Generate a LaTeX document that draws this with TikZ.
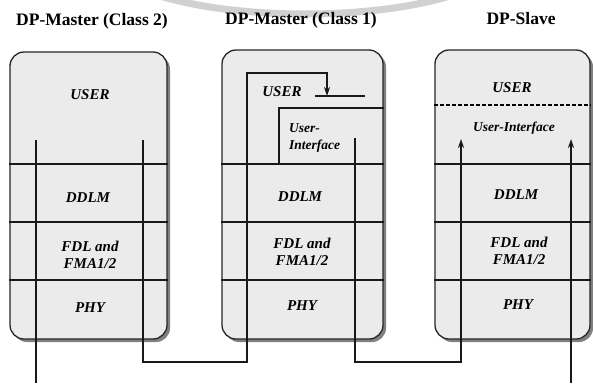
\documentclass[tikz,border=0pt]{standalone}
\usepackage{fontspec}
\setmainfont{Liberation Serif}
\usetikzlibrary{arrows.meta,shadows}

\begin{document}
\begin{tikzpicture}[x=1pt,y=-1pt,
  stack/.style={draw=black!85, line width=1.3pt, rounded corners=14pt, fill=black!8,
    inner sep=0pt,
    drop shadow={shadow xshift=3pt, shadow yshift=-3pt, fill=black!50, opacity=1}},
  title/.style={font=\fontsize{17.5}{20}\selectfont\bfseries, inner sep=0pt},
  layer/.style={font=\fontsize{15}{17}\selectfont\bfseries\itshape, inner sep=0pt, align=center},
  small/.style={font=\fontsize{13.5}{17}\selectfont\bfseries\itshape, inner sep=0pt},
  sep/.style={line width=1.8pt, black!90},
  bus/.style={line width=1.3pt, black!90},
  tip/.style={-{Stealth[length=9pt,width=6pt]}}
]
\useasboundingbox (0,0) rectangle (593,383);

% faint arc across the top
\draw[black!18, line width=7pt] (160,-4) .. controls (240,20) and (370,20) .. (450,-4);

% titles
\node[title] (t1) at (92,21) {DP-Master (Class 2)};
\node[title] (t2) at (301,20) {DP-Master (Class 1)};
\node[title] (t3) at (521,19) {DP-Slave};

% protocol stacks
\node[stack, minimum width=157pt, minimum height=287pt] (b1) at (88.5,195.5) {};
\node[stack, minimum width=161pt, minimum height=289pt] (b2) at (302.5,194.5) {};
\node[stack, minimum width=155pt, minimum height=289pt] (b3) at (512.5,194.5) {};

% layer boundaries
\foreach \b in {b1,b2,b3}{
  \draw[sep] (\b.west |- 0,164) -- (\b.east |- 0,164);
  \draw[sep] (\b.west |- 0,222) -- (\b.east |- 0,222);
  \draw[sep] (\b.west |- 0,280) -- (\b.east |- 0,280);
}

% user interface of the class 1 master
\coordinate (ui1) at (279,164);
\coordinate (ui2) at (279,108);
\draw[sep] (ui1) -- (ui2) -- (b2.east |- ui2);
% user interface of the slave
\draw[dash pattern=on 4pt off 2pt, line width=1.1pt] (b3.west |- 0,105) -- (b3.east |- 0,105);

% layer names
\node[layer] (u1) at (90,95) {USER};
\node[layer] (d1) at (88,198) {DDLM};
\node[layer] (f1) at (90,255) {FDL and\\FMA1/2};
\node[layer] (p1) at (90,308) {PHY};

\node[layer] (u2) at (282,92) {USER};
\node[small, align=left, anchor=west] (i2) at (289,138) {User-\\Interface};
\node[layer] (d2) at (300,197) {DDLM};
\node[layer] (f2) at (302,252) {FDL and\\FMA1/2};
\node[layer] (p2) at (302,306) {PHY};

\node[layer] (u3) at (512,88) {USER};
\node[small] (i3) at (514,128) {User-Interface};
\node[layer] (d3) at (516,195) {DDLM};
\node[layer] (f3) at (519,251) {FDL and\\FMA1/2};
\node[layer] (p3) at (518,305) {PHY};

% bus path points
\coordinate (a1) at (36,140);
\coordinate (a2) at (36,383);
\coordinate (r1) at (143,140);
\coordinate (r2) at (143,362);
\coordinate (l2) at (247,362);
\coordinate (l2t) at (247,73);
\coordinate (dn) at (327,73);
\coordinate (dne) at (327,96);
\coordinate (bar1) at (315,96);
\coordinate (bar2) at (365,96);
\coordinate (r2t) at (355,138);
\coordinate (r2b) at (355,362);
\coordinate (l3b) at (461,362);
\coordinate (l3t) at (461,139);
\coordinate (r3b) at (571,383);
\coordinate (r3t) at (571,139);

% connections through the stacks
\draw[bus] (a1) -- (a2);
\draw[bus, tip] (r1) -- (r2) -- (l2) -- (l2t) -- (dn) -- (dne);
\draw[bus] (bar1) -- (bar2);
\draw[bus, tip] (r2t) -- (r2b) -- (l3b) -- (l3t);
\draw[bus, tip] (r3b) -- (r3t);
\end{tikzpicture}
\end{document}
